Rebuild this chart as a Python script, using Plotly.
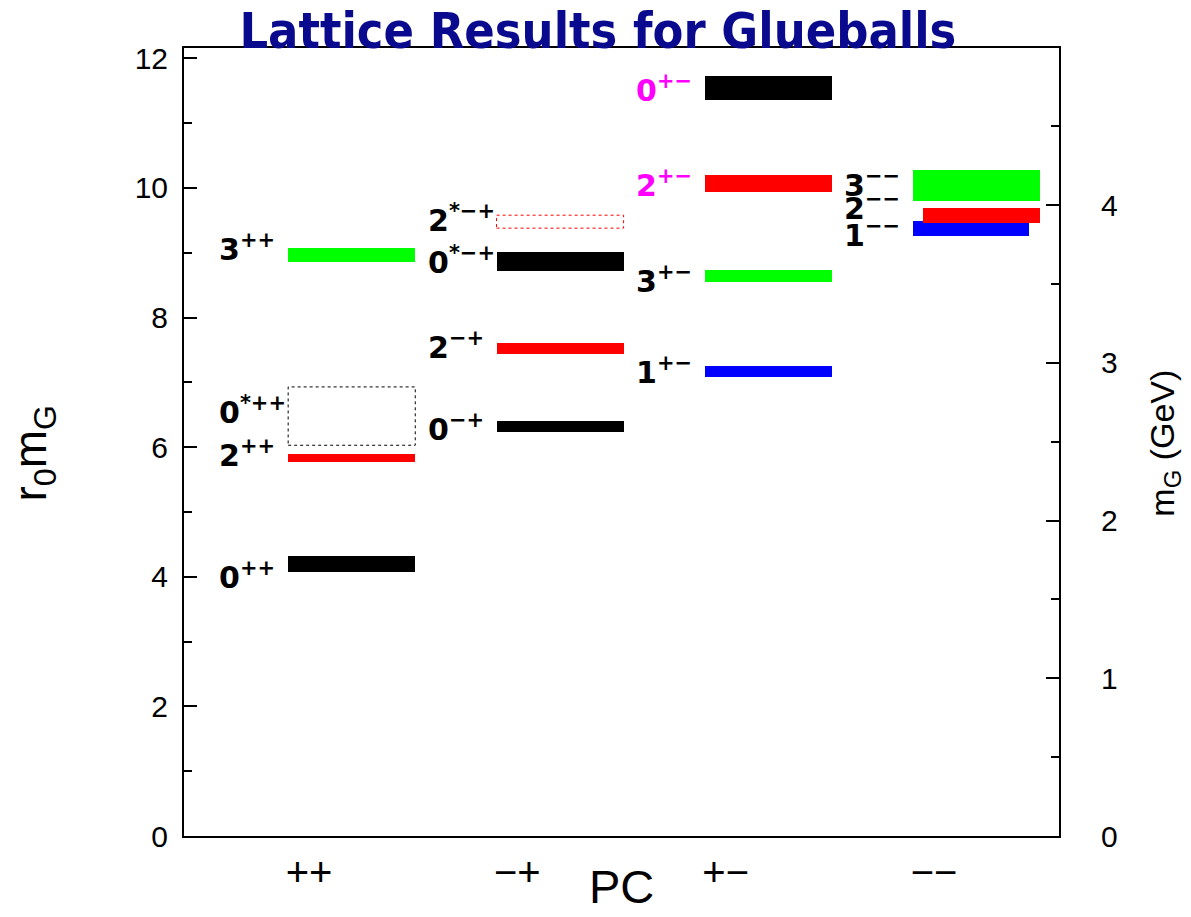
import plotly.graph_objects as go

# PC channels along the horizontal axis
pc_labels = ["++", "\u2212+", "+\u2212", "\u2212\u2212"]

# Glueball states: spin digit, superscript, PC channel index
state_j = ["0", "2", "0", "3", "0", "2", "0", "2", "1", "3", "2", "0", "1", "2", "3"]
state_sup = ["++", "++", "*++", "++",
             "\u2212+", "\u2212+", "*\u2212+", "*\u2212+",
             "+\u2212", "+\u2212", "+\u2212", "+\u2212",
             "\u2212\u2212", "\u2212\u2212", "\u2212\u2212"]
state_pc = [1, 1, 1, 1, 2, 2, 2, 2, 3, 3, 3, 3, 4, 4, 4]

# Masses in units of 1/r0 and their uncertainties
r0m = [4.20, 5.83, 6.48, 8.97, 6.32, 7.53, 8.86, 9.48,
       7.17, 8.64, 10.07, 11.54, 9.38, 9.57, 10.04]
r0m_err = [0.12, 0.065, 0.45, 0.105, 0.08, 0.085, 0.146, 0.10,
           0.09, 0.098, 0.128, 0.185, 0.118, 0.118, 0.234]

# 1/r0 in GeV, used for the physical-mass axis
r0_inv_gev = 0.411
r0m_max = 12.16

# Styling per state
bar_color = ["black", "red", "black", "#00ff00", "black", "red", "black", "red",
             "blue", "#00ff00", "red", "black", "blue", "red", "#00ff00"]
dotted = [False, False, True, False, False, False, False, True,
          False, False, False, False, False, False, False]
label_color = ["black"] * 10 + ["#ff00ff", "#ff00ff"] + ["black"] * 3

# Horizontal extent of each bar relative to its channel
bar_left = [-0.1] * 13 + [-0.052, -0.1]
bar_right = [0.51] * 12 + [0.457, 0.51, 0.51]

# Vertical placement of each label (r0 m units)
label_y = [3.98, 5.86, 6.52, 9.03, 6.26, 7.53, 8.84, 9.48,
           7.13, 8.54, 10.03, 11.49, 9.25, 9.67, 10.03]
label_dx = -0.44

fig = go.Figure()

# Solid bars
solid = [i for i in range(len(r0m)) if not dotted[i]]
fig.add_trace(go.Bar(
    x=[state_pc[i] for i in solid],
    y=[2 * r0m_err[i] for i in solid],
    base=[r0m[i] - r0m_err[i] for i in solid],
    offset=[bar_left[i] for i in solid],
    width=[bar_right[i] - bar_left[i] for i in solid],
    marker=dict(color=[bar_color[i] for i in solid], line=dict(width=0)),
    hoverinfo="skip", showlegend=False,
))

# Dotted outlines for excited states
for i in range(len(r0m)):
    if not dotted[i]:
        continue
    x0 = state_pc[i] + bar_left[i]
    x1 = state_pc[i] + bar_right[i]
    y0 = r0m[i] - r0m_err[i]
    y1 = r0m[i] + r0m_err[i]
    fig.add_trace(go.Scatter(
        x=[x0, x1, x1, x0, x0], y=[y0, y0, y1, y1, y0],
        mode="lines", line=dict(color=bar_color[i], width=1, dash="dot"),
        hoverinfo="skip", showlegend=False,
    ))

# Invisible trace so the GeV axis is drawn
fig.add_trace(go.Scatter(x=[1], y=[0], yaxis="y2", mode="markers",
                         marker=dict(opacity=0), hoverinfo="skip",
                         showlegend=False))

for i in range(len(r0m)):
    fig.add_annotation(
        x=state_pc[i] + label_dx, y=label_y[i], xref="x", yref="y",
        text=f"{state_j[i]}<sup>{state_sup[i]}</sup>",
        showarrow=False, xanchor="left", yanchor="middle", yshift=3,
        font=dict(family="DejaVu Sans", size=30, color=label_color[i],
                  weight="bold"),
    )

axis_font = dict(family="Liberation Sans", color="black")

# Axis titles
fig.add_annotation(x=-0.172, y=0.486, xref="paper", yref="paper",
                   text="r<sub>0</sub>m<sub>G</sub>", textangle=-90,
                   showarrow=False, xanchor="center", yanchor="middle",
                   font=dict(size=46, **axis_font))
fig.add_annotation(x=1.121, y=0.499, xref="paper", yref="paper",
                   text="m<sub>G</sub> (GeV)", textangle=-90,
                   showarrow=False, xanchor="center", yanchor="middle",
                   font=dict(size=34, **axis_font))
fig.add_annotation(x=0.5, y=-0.1, xref="paper", yref="paper",
                   text="PC", showarrow=False,
                   xanchor="center", yanchor="bottom",
                   font=dict(size=47, **axis_font))

fig.update_layout(
    width=1191, height=917,
    margin=dict(l=184, r=132, t=48, b=81, autoexpand=False),
    paper_bgcolor="white", plot_bgcolor="white",
    barmode="overlay", bargap=0,
    title=dict(
        text="<b>Lattice Results for Glueballs</b>",
        x=0.502, xref="container", xanchor="center",
        y=0.967, yref="container", yanchor="middle",
        font=dict(family="Liberation Sans Narrow, DejaVu Sans Condensed, Liberation Sans",
                  size=50, color="#0a0a8f"),
    ),
    xaxis=dict(
        range=[0.4, 4.6], tickmode="array", tickvals=[1, 2, 3, 4],
        ticktext=pc_labels, ticks="", showgrid=False, zeroline=False,
        showline=True, linecolor="black", linewidth=2, mirror=True,
        automargin=False,
        tickfont=dict(size=40, **axis_font), ticklabelstandoff=0,
    ),
    yaxis=dict(
        range=[0, r0m_max], tickmode="linear", tick0=0, dtick=2,
        ticks="inside", ticklen=13, tickwidth=1.5, tickcolor="black",
        minor=dict(dtick=1, ticks="inside", ticklen=8, tickwidth=1.5,
                   tickcolor="black", showgrid=False),
        showgrid=False, zeroline=False, automargin=False,
        showline=True, linecolor="black", linewidth=2,
        tickfont=dict(size=30, **axis_font), ticklabelstandoff=8,
    ),
    yaxis2=dict(
        overlaying="y", side="right",
        range=[0, r0m_max * r0_inv_gev], tickmode="linear", tick0=0, dtick=1,
        ticks="inside", ticklen=13, tickwidth=1.5, tickcolor="black",
        minor=dict(dtick=0.5, ticks="inside", ticklen=8, tickwidth=1.5,
                   tickcolor="black", showgrid=False),
        showgrid=False, zeroline=False, automargin=False,
        showline=True, linecolor="black", linewidth=2,
        tickfont=dict(size=30, **axis_font), ticklabelstandoff=34,
    ),
)

fig.write_html("out.html")
